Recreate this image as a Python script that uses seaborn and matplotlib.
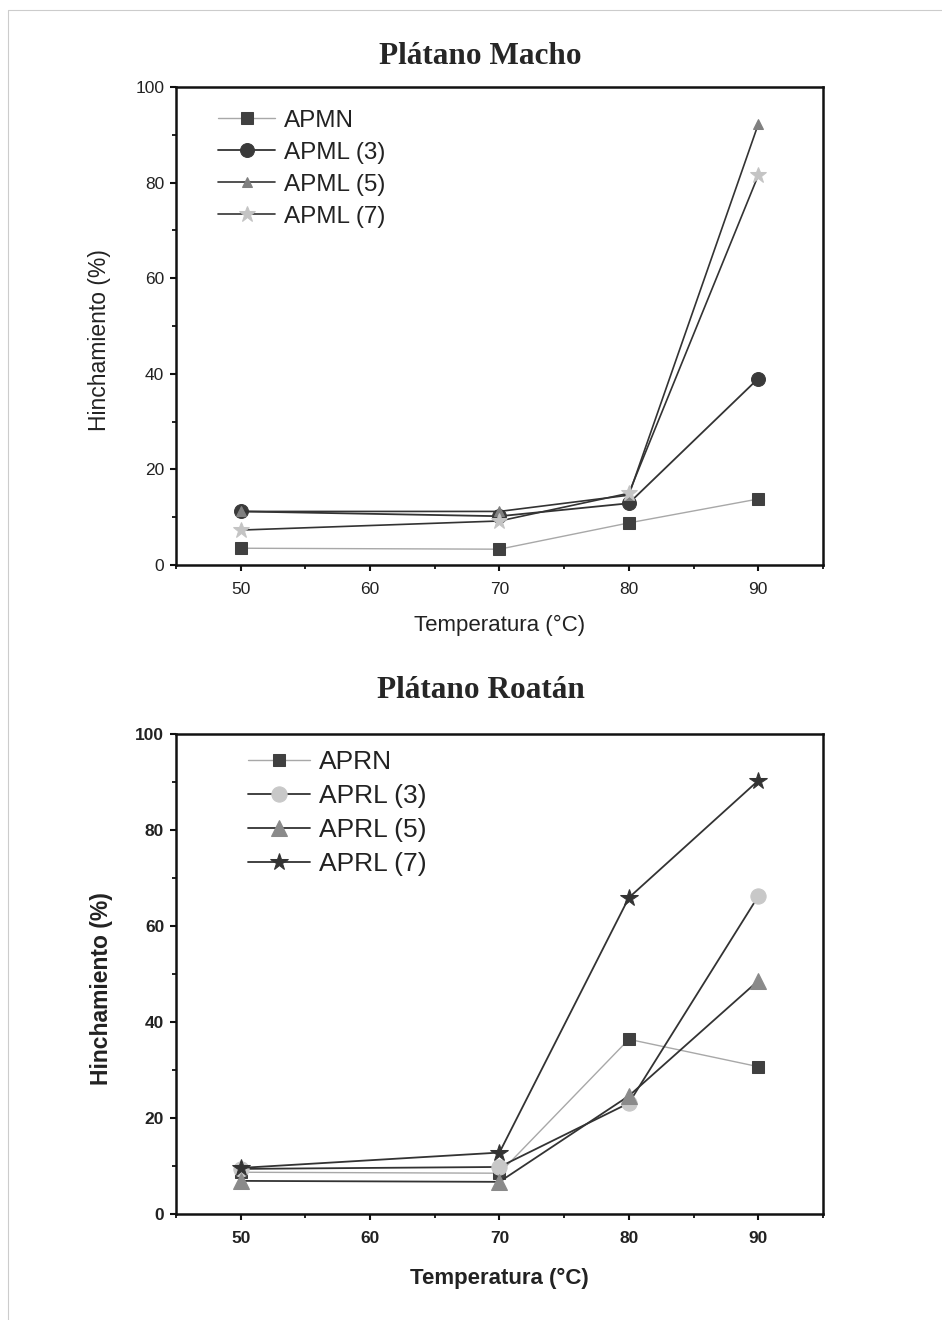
import matplotlib

matplotlib.use("Agg")

import matplotlib.pyplot as plt
from matplotlib.lines import Line2D
from matplotlib.ticker import MultipleLocator
import seaborn as sns

# temperatures (°C)
temps = [50, 70, 80, 90]

# Plátano Macho – swelling (%)
apmn = [3.5, 3.3, 8.8, 13.8]
apml_3 = [11.2, 10.2, 12.9, 39.0]
apml_5 = [11.2, 11.2, 14.6, 92.2]
apml_7 = [7.3, 9.2, 15.0, 81.5]

# Plátano Roatán – swelling (%)
aprn = [8.7, 8.5, 36.4, 30.7]
aprl_3 = [9.4, 9.8, 23.1, 66.2]
aprl_5 = [6.9, 6.7, 24.6, 48.6]
aprl_7 = [9.6, 12.8, 65.9, 90.3]

macho_labels = ["APMN", "APML (3)", "APML (5)", "APML (7)"]
roatan_labels = ["APRN", "APRL (3)", "APRL (5)", "APRL (7)"]

sns.set_style("ticks")
plt.rcParams["font.family"] = ["Liberation Sans", "DejaVu Sans"]

fig = plt.figure(figsize=(9.42, 13.2), dpi=100)
ax1 = fig.add_axes([0.1868, 0.5720, 0.6868, 0.3621])
ax2 = fig.add_axes([0.1868, 0.0803, 0.6868, 0.3636])

LIGHT = "#a8a8a8"
DARK = "#333333"


def series(ax, y, label, marker, ms, face, line, lw):
    sns.lineplot(x=temps, y=y, ax=ax, label=label, marker=marker, markersize=ms,
                 markerfacecolor=face, markeredgecolor=face, color=line,
                 linewidth=lw, errorbar=None)


series(ax1, apmn, macho_labels[0], "s", 8.5, "#404040", LIGHT, 1.0)
series(ax1, apml_3, macho_labels[1], "o", 10, "#3a3a3a", DARK, 1.3)
series(ax1, apml_5, macho_labels[2], "^", 7, "#808080", DARK, 1.2)
series(ax1, apml_7, macho_labels[3], "*", 12, "#c4c4c4", DARK, 1.2)

series(ax2, aprn, roatan_labels[0], "s", 9, "#404040", LIGHT, 1.0)
series(ax2, aprl_3, roatan_labels[1], "o", 11, "#c8c8c8", DARK, 1.3)
series(ax2, aprl_5, roatan_labels[2], "^", 11, "#8a8a8a", DARK, 1.3)
series(ax2, aprl_7, roatan_labels[3], "*", 13, "#333333", DARK, 1.3)

for ax, bold in [(ax1, False), (ax2, True)]:
    weight = "bold" if bold else "normal"
    ax.set_xlim(45, 95)
    ax.set_ylim(0, 100)
    ax.xaxis.set_major_locator(MultipleLocator(10))
    ax.xaxis.set_minor_locator(MultipleLocator(5))
    ax.yaxis.set_major_locator(MultipleLocator(20))
    ax.yaxis.set_minor_locator(MultipleLocator(10))
    ax.tick_params(which="major", direction="out", length=4.5, width=1.5,
                   labelsize=12.5, pad=4, color="#111111", labelcolor="#222222")
    ax.tick_params(axis="x", which="major", pad=7.5)
    ax.tick_params(which="minor", direction="out", length=3, width=1.3,
                   color="#111111")
    for lab in ax.get_xticklabels() + ax.get_yticklabels():
        lab.set_fontweight(weight)
    for s in ax.spines.values():
        s.set_linewidth(1.8)
        s.set_color("#111111")
    ax.set_xlabel("Temperatura (°C)", fontsize=16, fontweight=weight,
                  color="#222222")
    ax.set_ylabel("Hinchamiento (%)", fontsize=16.5, fontweight=weight,
                  color="#222222")

ax1.xaxis.set_label_coords(0.50, -0.105)
ax1.yaxis.set_label_coords(-0.100, 0.47)
ax2.xaxis.set_label_coords(0.50, -0.112)
ax2.yaxis.set_label_coords(-0.097, 0.47)

leg1 = ax1.legend(loc="upper left", bbox_to_anchor=(0.065, 0.952), frameon=False,
                  fontsize=17.5, handlelength=2.35, handletextpad=0.37,
                  labelspacing=0.41, borderaxespad=0, borderpad=0)
leg2 = ax2.legend(loc="upper left", bbox_to_anchor=(0.111, 0.967), frameon=False,
                  fontsize=19, handlelength=2.35, handletextpad=0.35,
                  labelspacing=0.38, borderaxespad=0, borderpad=0)
for leg in (leg1, leg2):
    for t in leg.get_texts():
        t.set_color("#222222")

fig.text(480 / 942, 1 - 56 / 1320, "Plátano Macho", ha="center", va="center",
         fontsize=22.5, fontweight="bold", family=["Liberation Serif", "DejaVu Serif"])
fig.text(481 / 942, 1 - 691 / 1320, "Plátano Roatán", ha="center", va="center",
         fontsize=22.5, fontweight="bold", family=["Liberation Serif", "DejaVu Serif"])

# faint frame at top and left edges of the page
fig.add_artist(Line2D([8 / 942, 8 / 942, 1.0], [0.0, 1 - 10 / 1320, 1 - 10 / 1320],
                      transform=fig.transFigure, color="#cccccc", linewidth=0.8))

fig.savefig("out.png", dpi=100)
